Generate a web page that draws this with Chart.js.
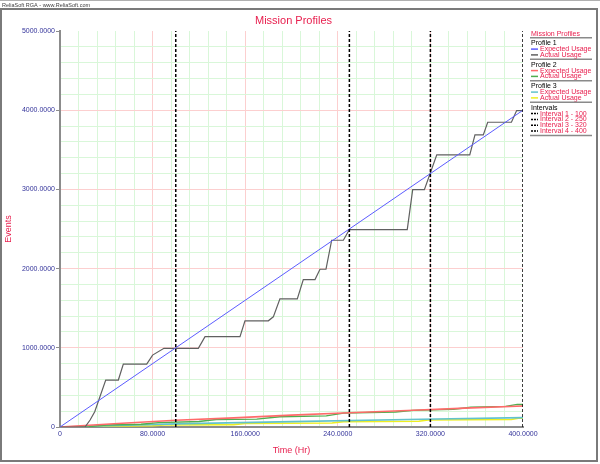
<!DOCTYPE html>
<html lang="en">
<head>
    <meta charset="UTF-8">
    <title>Mission Profiles</title>
    <script src="https://cdn.jsdelivr.net/npm/chart.js"></script>
    <style>
        body {
            margin: 0;
            background: #ffffff;
        }
        .chart-box {
            position: relative;
            width: 600px;
            height: 464px;
        }
    </style>
</head>
<body>
    <div class="chart-box"><canvas id="profileChart"></canvas></div>
    <script>
        // axis ticks
        const xTickValues = [0, 80, 160, 240, 320, 400];
        const xTickLabels = ['0', '80.0000', '160.0000', '240.0000', '320.0000', '400.0000'];
        const yTickValues = [0, 1000, 2000, 3000, 4000, 5000];
        const yTickLabels = ['0', '1000.0000', '2000.0000', '3000.0000', '4000.0000', '5000.0000'];

        // Profile 1
        const p1ExpectedTime = [0, 400];
        const p1Expected = [0, 4000];
        const p1ActualTime = [0, 21.6, 26, 30, 39.5, 50.4, 54.7, 74.9, 80, 89.8, 119.5, 125.3, 155.5, 159.8, 180, 184.3,
            190, 205, 210.2, 220.3, 224.6, 229.8, 234.7, 244.8, 250, 300, 304.7, 314.8, 325.5, 354, 358.5, 365.7,
            369.5, 390, 394.5, 400];
        const p1Actual = [0, 0, 88, 193, 593, 593, 795, 795, 908, 993, 993, 1140, 1140, 1341, 1341, 1391,
            1618, 1618, 1862, 1862, 1992, 1992, 2358, 2358, 2493, 2493, 2997, 2997, 3436, 3436, 3688, 3688,
            3848, 3848, 3995, 3995];

        // Profile 2
        const p2ExpectedTime = [0, 50, 100, 150, 200, 250, 300, 350, 400];
        const p2Expected = [0, 45, 85, 115, 150, 180, 208, 238, 265];
        const p2ActualTime = [0, 25, 40, 70, 85, 120, 135, 170, 190, 230, 245, 290, 305, 340, 355, 385, 395, 400];
        const p2Actual = [0, 5, 25, 35, 55, 70, 95, 100, 130, 140, 175, 190, 210, 225, 250, 260, 285, 285];

        // Profile 3
        const p3ExpectedTime = [0, 100, 200, 300, 400];
        const p3Expected = [0, 40, 68, 95, 118];
        const p3ActualTime = [0, 30, 35, 80, 90, 150, 160, 235, 245, 310, 318, 390, 396, 400];
        const p3Actual = [0, 0, 10, 15, 25, 30, 45, 50, 68, 72, 88, 95, 110, 110];

        // Interval end times
        const intervalEnds = [100, 250, 320, 400];

        const RED_TEXT = '#e8204f';
        const BLUE_TEXT = '#33339a';

        function points(xs, ys) {
            return xs.map((x, i) => ({ x: x, y: ys[i] }));
        }

        function series(label, group, xs, ys, color, width) {
            return {
                label: label,
                group: group,
                data: points(xs, ys),
                borderColor: color,
                borderWidth: width,
                pointRadius: 0,
                fill: false,
                tension: 0,
                order: 2
            };
        }

        const datasets = [
            series('Expected Usage', 'Profile 1', p1ExpectedTime, p1Expected, '#5c5cff', 1),
            series('Actual Usage', 'Profile 1', p1ActualTime, p1Actual, '#606060', 1.2),
            series('Expected Usage', 'Profile 2', p2ExpectedTime, p2Expected, '#ff6a6a', 1.6),
            series('Actual Usage', 'Profile 2', p2ActualTime, p2Actual, '#4fae4f', 1.4),
            series('Expected Usage', 'Profile 3', p3ExpectedTime, p3Expected, '#62c2cc', 1.6),
            series('Actual Usage', 'Profile 3', p3ActualTime, p3Actual, '#eeee22', 1.6)
        ];
        intervalEnds.forEach((t, i) => {
            datasets.push({
                label: 'Interval ' + (i + 1) + ' - ' + t,
                group: 'Intervals',
                data: [{ x: t, y: 0 }, { x: t, y: 5000 }],
                borderColor: '#000000',
                borderWidth: 1.5,
                borderDash: [3, 2],
                pointRadius: 0,
                fill: false,
                order: 0
            });
        });

        // frame, header, title and grouped legend
        const framePlugin = {
            id: 'frame',
            beforeDraw(chart) {
                const ctx = chart.ctx;
                ctx.save();
                ctx.fillStyle = '#ffffff';
                ctx.fillRect(0, 0, chart.width, chart.height);
                ctx.restore();
            },
            afterDraw(chart) {
                const ctx = chart.ctx;
                const area = chart.chartArea;
                ctx.save();
                // header
                ctx.strokeStyle = '#b0b0b0';
                ctx.lineWidth = 1;
                ctx.beginPath();
                ctx.moveTo(0, 0.5);
                ctx.lineTo(chart.width, 0.5);
                ctx.stroke();
                ctx.fillStyle = '#404040';
                ctx.font = '5.5px "Liberation Sans"';
                ctx.textBaseline = 'middle';
                ctx.textAlign = 'left';
                ctx.fillText('ReliaSoft RGA - www.ReliaSoft.com', 2, 5);
                ctx.strokeStyle = '#7a7a7a';
                ctx.lineWidth = 2;
                ctx.strokeRect(1, 9, 596, 452);

                // title
                ctx.fillStyle = RED_TEXT;
                ctx.font = '11px "Liberation Sans"';
                ctx.textAlign = 'center';
                ctx.fillText('Mission Profiles', (area.left + area.right) / 2 + 2, 21);

                // legend
                const lx = 531;
                let y = 34;
                const underline = (yy) => {
                    ctx.strokeStyle = '#8a8a8a';
                    ctx.lineWidth = 1.5;
                    ctx.setLineDash([]);
                    ctx.beginPath();
                    ctx.moveTo(530, yy);
                    ctx.lineTo(592, yy);
                    ctx.stroke();
                };
                ctx.textAlign = 'left';
                ctx.font = '7px "Liberation Sans"';
                ctx.fillStyle = RED_TEXT;
                ctx.fillText('Mission Profiles', lx, y);
                y += 3.8;
                underline(y);
                const groups = [];
                chart.data.datasets.forEach(ds => {
                    if (groups.indexOf(ds.group) < 0) groups.push(ds.group);
                });
                groups.forEach(g => {
                    y += 5.5;
                    ctx.fillStyle = '#000000';
                    ctx.fillText(g, lx, y);
                    chart.data.datasets.filter(ds => ds.group === g).forEach(ds => {
                        y += 5.8;
                        ctx.strokeStyle = ds.borderColor;
                        ctx.lineWidth = 1.5;
                        ctx.setLineDash(ds.borderDash ? [2, 1] : []);
                        ctx.beginPath();
                        ctx.moveTo(lx, y);
                        ctx.lineTo(lx + 7, y);
                        ctx.stroke();
                        ctx.fillStyle = RED_TEXT;
                        ctx.fillText(ds.label, lx + 9, y);
                    });
                    y += 4.4;
                    underline(y);
                });
                ctx.restore();
            }
        };

        function tickLabel(value, values, labels) {
            const i = values.indexOf(value);
            return i >= 0 ? labels[i] : '';
        }

        const ctx = document.getElementById('profileChart').getContext('2d');
        new Chart(ctx, {
            type: 'line',
            data: { datasets: datasets },
            options: {
                responsive: true,
                maintainAspectRatio: false,
                animation: false,
                layout: { padding: { top: 31, right: 77, bottom: 0, left: 0 } },
                plugins: {
                    legend: { display: false },
                    tooltip: { enabled: false },
                    title: { display: false }
                },
                scales: {
                    x: {
                        type: 'linear',
                        min: 0,
                        max: 400,
                        afterFit: (scale) => { scale.height = 37; },
                        border: { color: '#8c8c8c', width: 2 },
                        grid: {
                            drawTicks: false,
                            lineWidth: 1,
                            color: (c) => c.tick.value === 0 || c.tick.value === 400 ? 'rgba(0,0,0,0)'
                                : (c.tick.value % 80 === 0 ? '#fccfcf' : '#d9f7d9')
                        },
                        ticks: {
                            stepSize: 16,
                            autoSkip: false,
                            maxRotation: 0,
                            padding: 3,
                            color: BLUE_TEXT,
                            font: { family: 'Liberation Sans', size: 7 },
                            callback: (v) => tickLabel(v, xTickValues, xTickLabels)
                        },
                        title: {
                            display: true,
                            text: 'Time (Hr)',
                            color: RED_TEXT,
                            font: { family: 'Liberation Sans', size: 9 },
                            padding: { top: 0, bottom: 8 }
                        }
                    },
                    y: {
                        type: 'linear',
                        min: 0,
                        max: 5000,
                        afterFit: (scale) => { scale.width = 60; },
                        border: { color: '#8c8c8c', width: 2 },
                        grid: {
                            lineWidth: 1,
                            tickLength: 4,
                            tickColor: (c) => c.tick.value % 1000 === 0 ? '#8c8c8c' : 'rgba(0,0,0,0)',
                            color: (c) => c.tick.value === 0 || c.tick.value === 5000 ? 'rgba(0,0,0,0)'
                                : (c.tick.value % 1000 === 0 ? '#fccfcf' : '#d9f7d9')
                        },
                        ticks: {
                            stepSize: 200,
                            autoSkip: false,
                            padding: 1,
                            color: BLUE_TEXT,
                            font: { family: 'Liberation Sans', size: 7 },
                            callback: (v) => tickLabel(v, yTickValues, yTickLabels)
                        },
                        title: {
                            display: true,
                            text: 'Events',
                            color: RED_TEXT,
                            font: { family: 'Liberation Sans', size: 9 },
                            padding: { top: 3, bottom: 0 }
                        }
                    }
                }
            },
            plugins: [framePlugin]
        });
    </script>
</body>
</html>
